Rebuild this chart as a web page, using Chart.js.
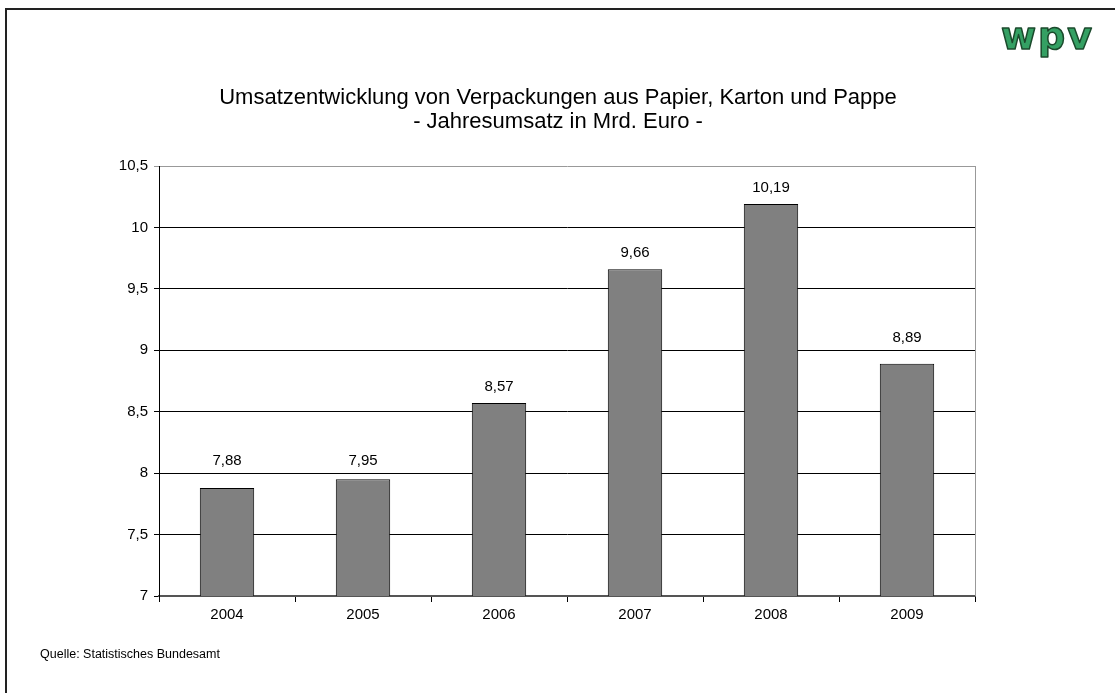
<!DOCTYPE html>
<html>
<head>
<meta charset="utf-8">
<script src="https://cdn.jsdelivr.net/npm/chart.js@4/dist/chart.umd.min.js"></script>
<style>
  html, body { margin: 0; padding: 0; background: #fff; }
  #wrap { width: 1115px; height: 693px; }
</style>
</head>
<body>
<div id="wrap"><canvas id="chart" width="1115" height="693"></canvas></div>
<script>
// ---------- DATA ----------
const years = ["2004", "2005", "2006", "2007", "2008", "2009"];
const umsatz = [7.88, 7.95, 8.57, 9.66, 10.19, 8.89];
const titleLines = [
  "Umsatzentwicklung von Verpackungen aus Papier, Karton und Pappe",
  "- Jahresumsatz in Mrd. Euro -"
];
const sourceText = "Quelle: Statistisches Bundesamt";

const FONT = "'Liberation Sans', Arial, sans-serif";

// German number format
function deNum(v) {
  return String(v).replace(".", ",");
}

// ---------- EXTRAS: frame, title, logo, source, labels ----------
const extras = {
  id: "extras",
  afterDatasetsDraw(chart) {
    const ctx = chart.ctx;
    const meta = chart.getDatasetMeta(0);
    const yScale = chart.scales.y;
    const gridYs = yScale.ticks.map((t) => yScale.getPixelForValue(t.value));
    ctx.save();
    ctx.fillStyle = "#000";
    ctx.font = "15px " + FONT;
    ctx.textAlign = "center";
    ctx.textBaseline = "middle";
    meta.data.forEach((bar, i) => {
      let cy = bar.y - 16.5;
      // keep the label clear of a gridline, like the manually moved labels
      gridYs.forEach((gy) => {
        if (gy >= cy - 10 && gy <= cy + 12) cy = gy - 12;
      });
      ctx.fillText(umsatz[i].toFixed(2).replace(".", ","), bar.x, cy);
    });
    ctx.restore();
  },
  afterDraw(chart) {
    const ctx = chart.ctx;
    const a = chart.chartArea;
    ctx.save();

    // right border of plot area
    ctx.strokeStyle = "#999";
    ctx.lineWidth = 1;
    ctx.beginPath();
    ctx.moveTo(Math.round(a.right) + 0.5, a.top);
    ctx.lineTo(Math.round(a.right) + 0.5, a.bottom);
    ctx.stroke();

    // outer frame (left + top)
    ctx.strokeStyle = "#222";
    ctx.lineWidth = 2;
    ctx.beginPath();
    ctx.moveTo(6, 693);
    ctx.lineTo(6, 9);
    ctx.lineTo(1115, 9);
    ctx.stroke();

    // title
    ctx.fillStyle = "#000";
    ctx.font = "22px " + FONT;
    ctx.textAlign = "center";
    ctx.textBaseline = "alphabetic";
    ctx.fillText(titleLines[0], 558, 104);
    ctx.fillText(titleLines[1], 558, 128);

    // source
    ctx.font = "12.5px " + FONT;
    ctx.textAlign = "left";
    ctx.textBaseline = "middle";
    ctx.fillText(sourceText, 40, 655);

    // logo
    ctx.font = "bold 38px 'DejaVu Sans', sans-serif";
    ctx.letterSpacing = "2px";
    ctx.textBaseline = "alphabetic";
    ctx.lineJoin = "round";
    ctx.lineWidth = 1.5;
    ctx.strokeStyle = "#1b4a2c";
    ctx.fillStyle = "#34a063";
    ctx.fillText("wpv", 1001, 49);
    ctx.strokeText("wpv", 1001, 49);
    ctx.restore();
  }
};

// ---------- CHART ----------
new Chart(document.getElementById("chart"), {
  type: "bar",
  data: {
    labels: years,
    datasets: [{
      data: umsatz,
      backgroundColor: "#808080",
      borderColor: "#000",
      borderWidth: 1,
      borderSkipped: "bottom",
      categoryPercentage: 1,
      barPercentage: 0.4
    }]
  },
  options: {
    responsive: false,
    animation: false,
    devicePixelRatio: 1,
    layout: { padding: { left: 100, right: 140, top: 166, bottom: 67 } },
    plugins: {
      legend: { display: false },
      title: { display: false },
      tooltip: { enabled: false }
    },
    scales: {
      x: {
        afterFit: (s) => { s.height = 30; },
        grid: {
          offset: true,
          drawOnChartArea: false,
          drawTicks: true,
          tickLength: 6,
          color: "#000"
        },
        border: { color: "#555", width: 2 },
        ticks: { color: "#000", font: { family: FONT, size: 15 }, padding: 4 }
      },
      y: {
        min: 7,
        max: 10.5,
        afterFit: (s) => { s.width = 59; },
        grid: {
          color: (c) => (c.tick && c.tick.value === 10.5 ? "#999" : "#000"),
          lineWidth: 1,
          tickLength: 5
        },
        border: { color: "#000", width: 1 },
        ticks: {
          stepSize: 0.5,
          color: "#000",
          font: { family: FONT, size: 15 },
          padding: 6,
          callback: (v) => deNum(v)
        }
      }
    }
  },
  plugins: [extras]
});
</script>
</body>
</html>
